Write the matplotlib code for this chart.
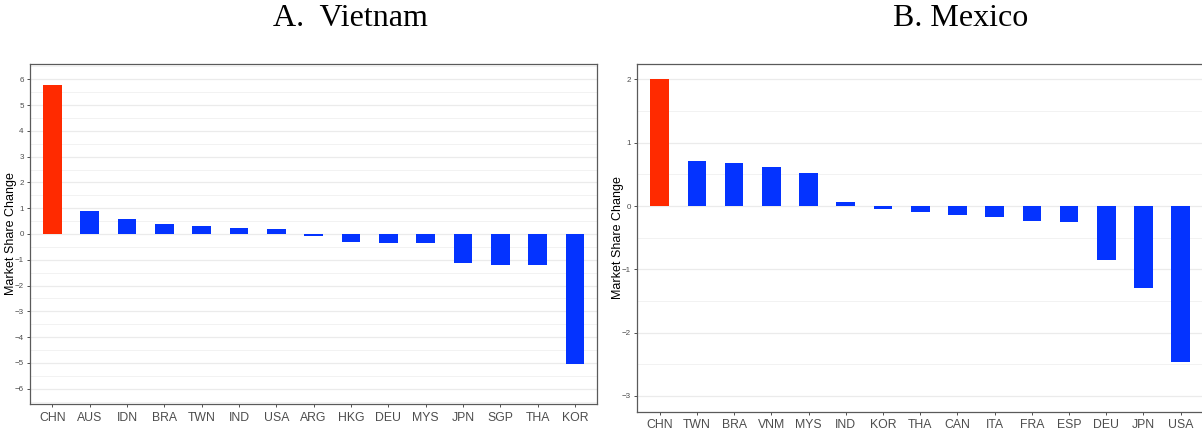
import matplotlib
matplotlib.use("Agg")
import matplotlib.pyplot as plt
from matplotlib.ticker import MultipleLocator

# ---- data ----
vn_countries = ["CHN", "AUS", "IDN", "BRA", "TWN", "IND", "USA", "ARG",
                "HKG", "DEU", "MYS", "JPN", "SGP", "THA", "KOR"]
vn_values = [5.76, 0.89, 0.58, 0.37, 0.32, 0.25, 0.21, -0.08,
             -0.30, -0.34, -0.34, -1.11, -1.19, -1.21, -5.05]

mx_countries = ["CHN", "TWN", "BRA", "VNM", "MYS", "IND", "KOR", "THA",
                "CAN", "ITA", "FRA", "ESP", "DEU", "JPN", "USA"]
mx_values = [2.00, 0.71, 0.68, 0.61, 0.53, 0.06, -0.04, -0.095,
             -0.14, -0.18, -0.23, -0.26, -0.85, -1.30, -2.47]

titles = ["A.  Vietnam", "B. Mexico"]
ylabel = "Market Share Change"

RED = "#FF2A00"
BLUE = "#0433FF"

W, H = 1202, 433
fig = plt.figure(figsize=(W / 100, H / 100), dpi=100)


def px_axes(left, right, top, bottom):
    return fig.add_axes([left / W, 1 - bottom / H, (right - left) / W, (bottom - top) / H])


def draw(ax, cats, vals, ylim, major, lab_x):
    x = list(range(len(cats)))
    colors = [RED if c == "CHN" else BLUE for c in cats]
    ax.bar(x, vals, width=0.5, color=colors, zorder=3, linewidth=0)
    ax.set_xlim(-0.6, len(cats) - 1 + 0.6)
    ax.set_ylim(*ylim)
    ax.set_xticks(x)
    ax.set_xticklabels(cats, fontsize=8.8, color="#4D4D4D", family="Liberation Sans")
    ax.yaxis.set_major_locator(MultipleLocator(major))
    ax.yaxis.set_minor_locator(MultipleLocator(major / 2))
    for lab in ax.get_yticklabels():
        lab.set_fontsize(5.8)
        lab.set_color("#4D4D4D")
        lab.set_family("Liberation Sans")
    ax.grid(axis="y", which="major", color="#EBEBEB", linewidth=0.9, zorder=0)
    ax.grid(axis="y", which="minor", color="#F2F2F2", linewidth=0.7, zorder=0)
    ax.grid(axis="x", visible=False)
    ax.tick_params(axis="both", which="major", length=2.5, width=0.6, color="#333333", pad=2)
    ax.tick_params(axis="x", which="major", pad=3)
    ax.tick_params(axis="y", which="minor", length=0)
    for sp in ax.spines.values():
        sp.set_color("#5A5A5A")
        sp.set_linewidth(0.9)
    ax.set_ylabel(ylabel, fontsize=9, family="Liberation Sans", color="black")
    ax.yaxis.set_label_coords(lab_x, 0.5)
    ax.set_facecolor("white")


axA = px_axes(30, 597.3, 64, 404)
draw(axA, vn_countries, vn_values, (-6.59, 6.59), 1, -0.023)

axB = px_axes(637.4, 1203, 64.3, 411.7)
draw(axB, mx_countries, mx_values, (-3.25, 2.24), 1, -0.024)

fig.text(350 / W, 1 - 18 / H, titles[0], ha="center", va="center",
         fontsize=23, family="Liberation Serif")
fig.text(961 / W, 1 - 18 / H, titles[1], ha="center", va="center",
         fontsize=23, family="Liberation Serif")

fig.savefig("out.png", dpi=100, facecolor="white")
